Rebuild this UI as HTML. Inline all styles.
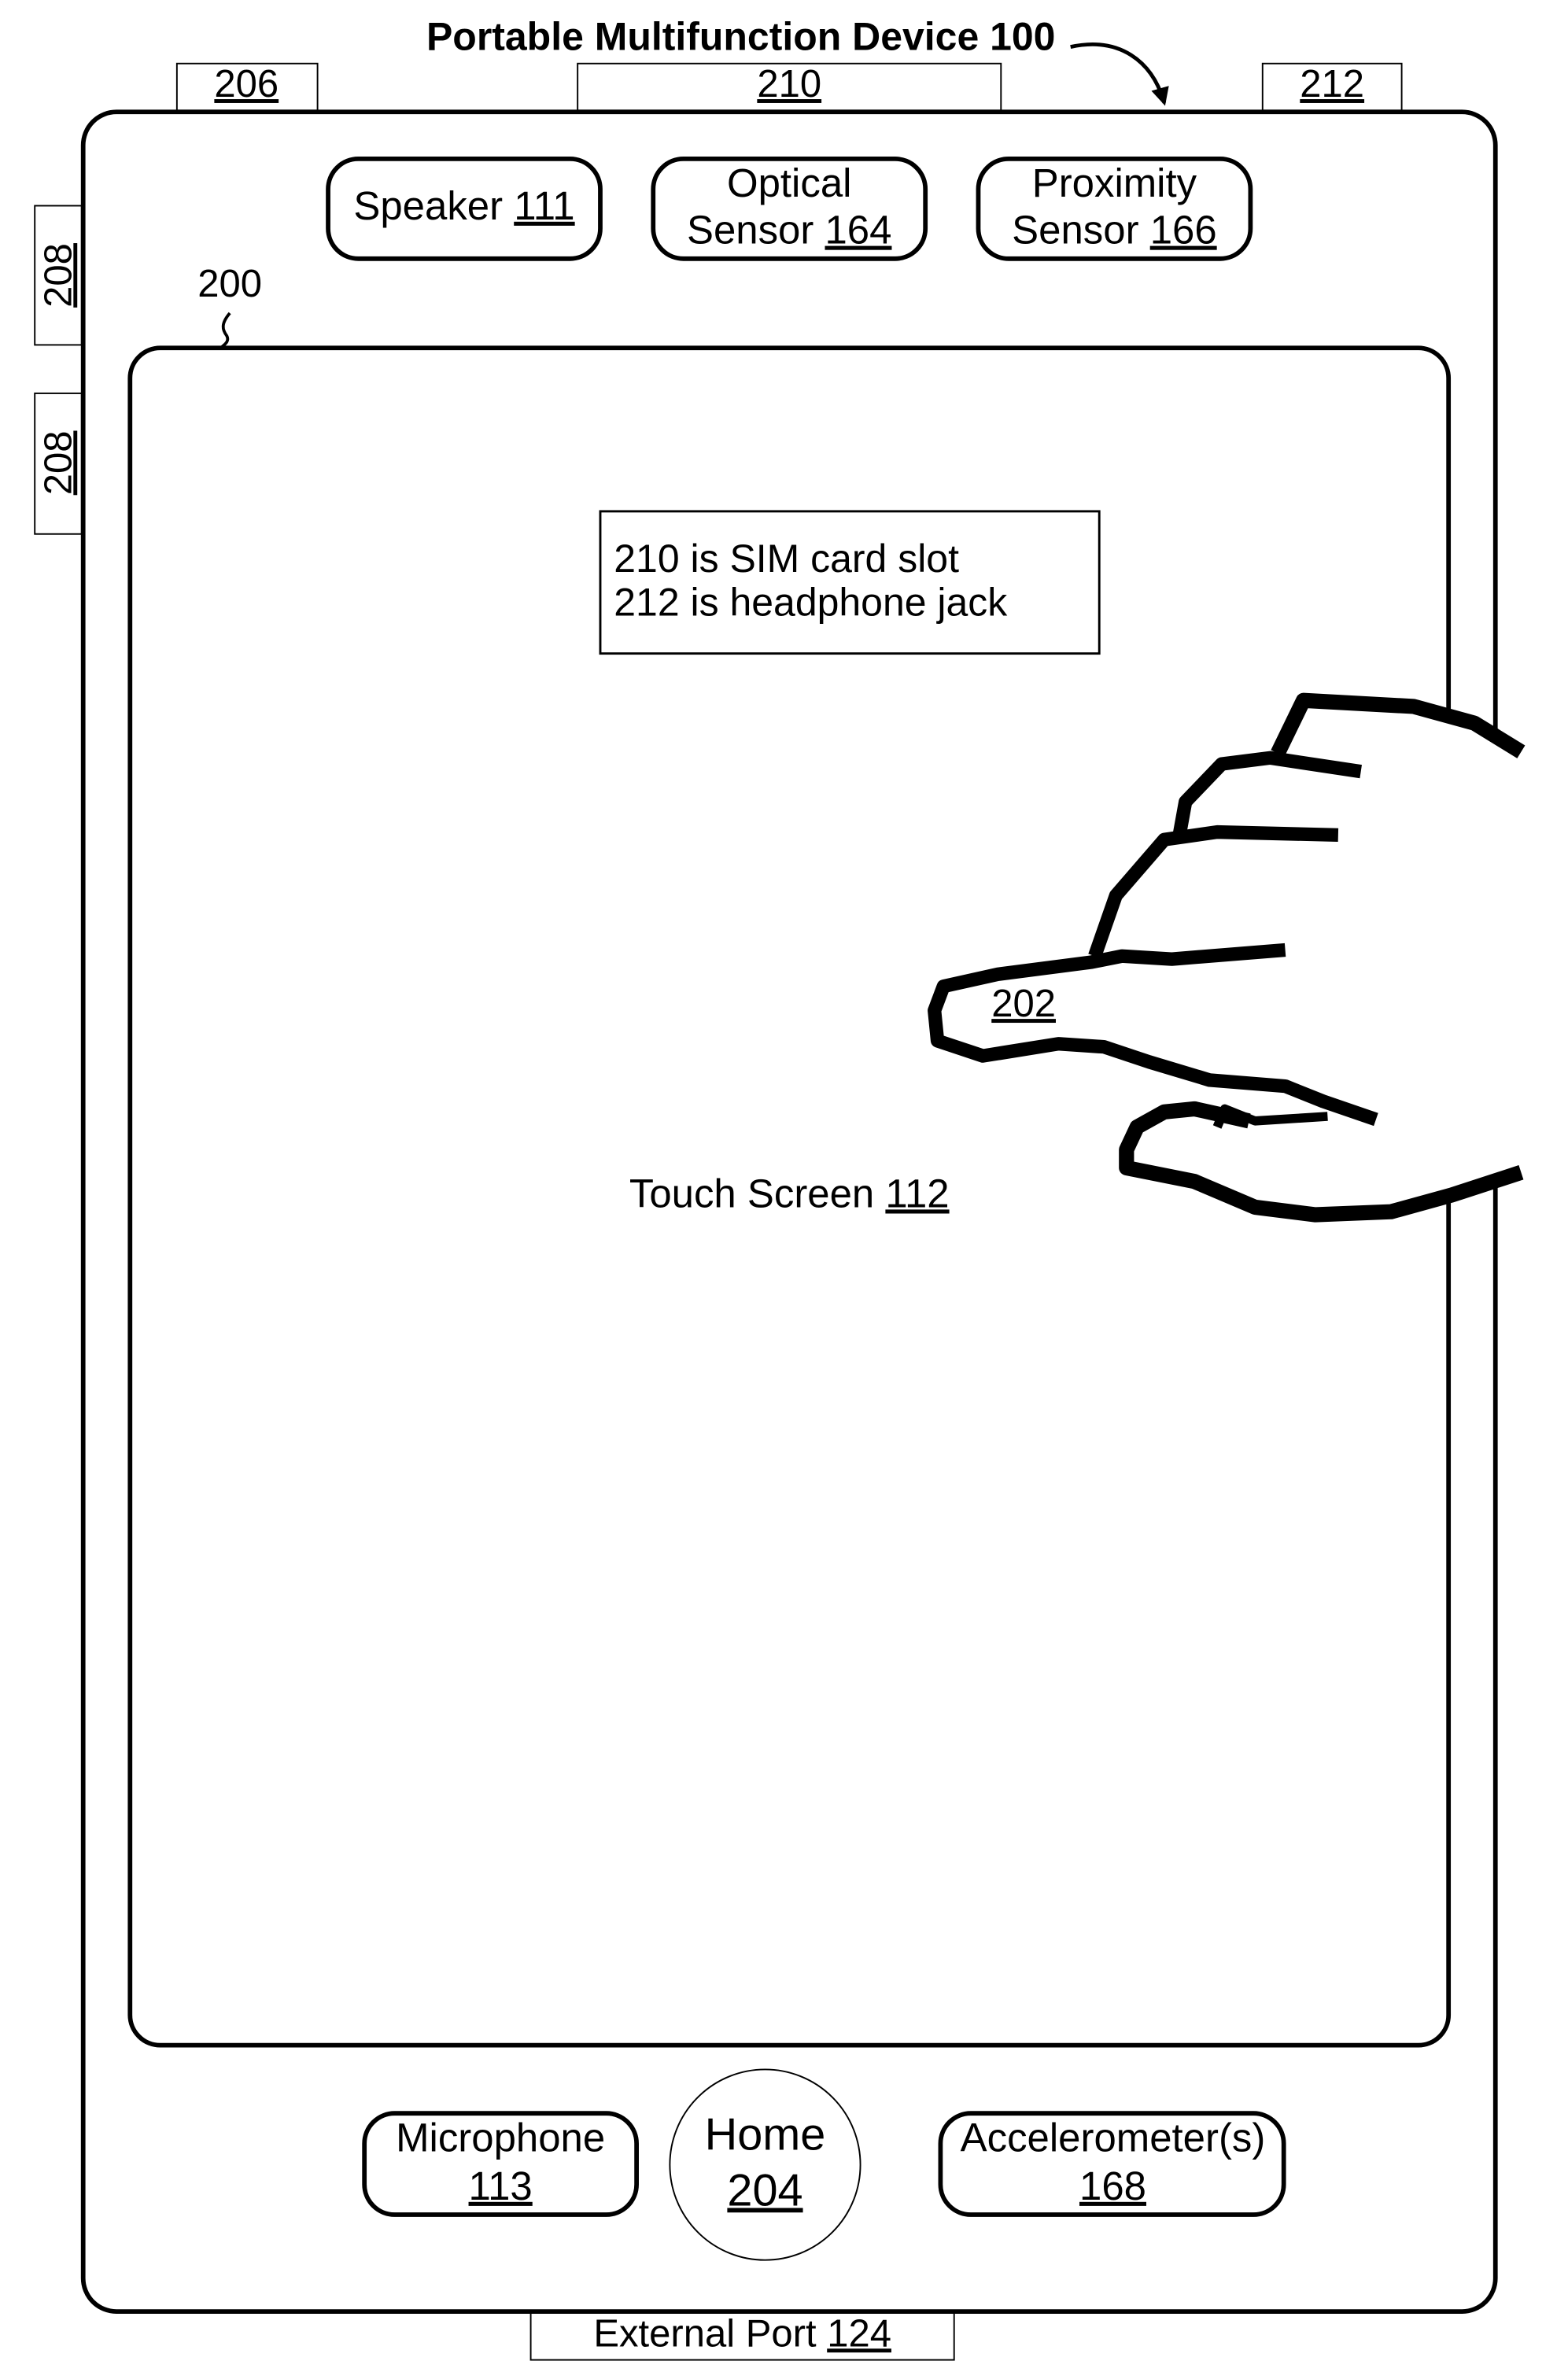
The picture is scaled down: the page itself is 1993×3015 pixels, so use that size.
<!DOCTYPE html>
<html><head><meta charset="utf-8"><style>
html,body{margin:0;padding:0;background:#fff;}
svg{display:block;}
text{font-family:"Liberation Sans",Arial,sans-serif;fill:#000;}
</style></head><body>
<svg width="1993" height="3015" viewBox="0 0 1037 1568" preserveAspectRatio="none" xmlns="http://www.w3.org/2000/svg">
<defs><marker id="ah" markerWidth="12" markerHeight="12" refX="10" refY="6" orient="auto" markerUnits="userSpaceOnUse"><path d="M0,0 L12,6 L0,12 Z" fill="#000"/></marker></defs>
<text x="490" y="33" font-size="26" font-weight="bold" text-anchor="middle">Portable Multifunction Device 100</text>
<path d="M708,31 C740,24 762,40 770,68" fill="none" stroke="#000" stroke-width="2.5" marker-end="url(#ah)"/>
<rect x="117" y="42" width="93" height="31" fill="#fff" stroke="#000" stroke-width="1"/>
<text x="163" y="64" font-size="25.5" text-anchor="middle" text-decoration="underline">206</text>
<rect x="382" y="42" width="280" height="31" fill="#fff" stroke="#000" stroke-width="1"/>
<text x="522" y="64" font-size="25.5" text-anchor="middle" text-decoration="underline">210</text>
<rect x="835" y="42" width="92" height="31" fill="#fff" stroke="#000" stroke-width="1"/>
<text x="881" y="64" font-size="25.5" text-anchor="middle" text-decoration="underline">212</text>
<rect x="23" y="136" width="31" height="92" fill="#fff" stroke="#000" stroke-width="1"/>
<text transform="translate(47,182) rotate(-90)" font-size="25.5" text-anchor="middle" text-decoration="underline">208</text>
<rect x="23" y="260" width="31" height="93" fill="#fff" stroke="#000" stroke-width="1"/>
<text transform="translate(47,306) rotate(-90)" font-size="25.5" text-anchor="middle" text-decoration="underline">208</text>
<rect x="351" y="1528" width="280" height="32" fill="#fff" stroke="#000" stroke-width="1"/>
<text x="491" y="1551" font-size="25.5" text-anchor="middle">External Port <tspan text-decoration="underline">124</tspan></text>
<rect x="55" y="74" width="934" height="1454" rx="22" fill="none" stroke="#000" stroke-width="3"/>
<rect x="217" y="105" width="180" height="66" rx="20" fill="#fff" stroke="#000" stroke-width="3"/>
<text x="307" y="145" font-size="26.5" text-anchor="middle">Speaker <tspan text-decoration="underline">111</tspan></text>
<rect x="432" y="105" width="180" height="66" rx="20" fill="#fff" stroke="#000" stroke-width="3"/>
<text x="522" y="130" font-size="26.5" text-anchor="middle">Optical</text>
<text x="522" y="161" font-size="26.5" text-anchor="middle">Sensor <tspan text-decoration="underline">164</tspan></text>
<rect x="647" y="105" width="180" height="66" rx="20" fill="#fff" stroke="#000" stroke-width="3"/>
<text x="737" y="130" font-size="26.5" text-anchor="middle">Proximity</text>
<text x="737" y="161" font-size="26.5" text-anchor="middle">Sensor <tspan text-decoration="underline">166</tspan></text>
<text x="152" y="196" font-size="25.5" text-anchor="middle">200</text>
<path d="M152,207 C146,214 147,218 150,222 C152,226 148,228 146,230" fill="none" stroke="#000" stroke-width="2"/>
<rect x="86" y="230" width="872" height="1122" rx="20" fill="none" stroke="#000" stroke-width="3"/>
<rect x="397" y="338" width="330" height="94" fill="#fff" stroke="#000" stroke-width="1.5"/>
<text x="406" y="378" font-size="26">210 is SIM card slot</text>
<text x="406" y="407" font-size="26">212 is headphone jack</text>
<text x="522" y="798" font-size="26.5" text-anchor="middle">Touch Screen <tspan text-decoration="underline">112</tspan></text>
<polygon points="862,463 935,467 975,478 1006,495 1006,776 960,790 920,800 860,803 830,797 790,780 745,770 745,760 755,740 780,733 760,700 700,688 650,698 620,690 617,670 625,652 660,645 720,635 740,590 770,555 785,530 805,505 845,500" fill="#fff"/>
<g fill="none" stroke="#000" stroke-linejoin="round">
<path d="M845,498 L862,463 L935,467 L975,478 L1006,497" stroke-width="10"/>
<path d="M780,552 L784,530 L808,505 L840,501 L900,510" stroke-width="9"/>
<path d="M724,632 L738,592 L770,555 L805,550 L885,552" stroke-width="9"/>
<path d="M850,628 L775,634 L742,632 L722,636 L660,644 L624,652 L618,668 L620,688 L650,698 L700,690 L730,692 L760,702 L800,714 L850,718 L875,728 L910,740" stroke-width="9"/>
<path d="M878,738 L830,741 L810,733 L805,745" stroke-width="6"/>
<path d="M826,741 L790,733 L770,735 L752,745 L745,760 L745,772 L790,781 L830,798 L870,803 L920,801 L960,790 L1006,775" stroke-width="10"/>
</g>
<text x="677" y="672" font-size="25.5" text-anchor="middle" text-decoration="underline">202</text>
<rect x="241" y="1397" width="180" height="67" rx="20" fill="#fff" stroke="#000" stroke-width="3"/>
<text x="331" y="1422" font-size="26.5" text-anchor="middle">Microphone</text>
<text x="331" y="1454" font-size="26.5" text-anchor="middle" text-decoration="underline">113</text>
<circle cx="506" cy="1431" r="63" fill="#fff" stroke="#000" stroke-width="1"/>
<text x="506" y="1421" font-size="30" text-anchor="middle">Home</text>
<text x="506" y="1458" font-size="30" text-anchor="middle" text-decoration="underline">204</text>
<rect x="622" y="1397" width="227" height="67" rx="20" fill="#fff" stroke="#000" stroke-width="3"/>
<text x="736" y="1422" font-size="26.5" text-anchor="middle">Accelerometer(s)</text>
<text x="736" y="1454" font-size="26.5" text-anchor="middle" text-decoration="underline">168</text>
</svg>
</body></html>
